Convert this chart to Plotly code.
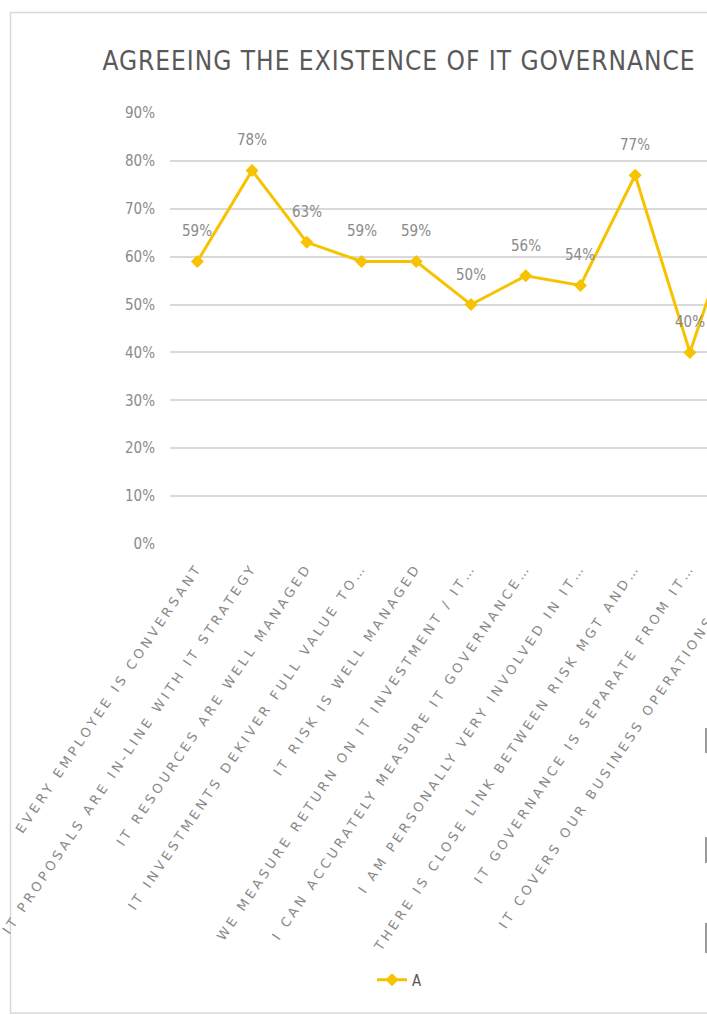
import plotly.graph_objects as go

categories = [
    "EVERY EMPLOYEE IS CONVERSANT",
    "IT PROPOSALS ARE IN-LINE WITH IT STRATEGY",
    "IT RESOURCES ARE WELL MANAGED",
    "IT INVESTMENTS DEKIVER FULL VALUE TO…",
    "IT RISK IS WELL MANAGED",
    "WE MEASURE RETURN ON IT INVESTMENT / IT…",
    "I CAN ACCURATELY MEASURE IT GOVERNANCE…",
    "I AM PERSONALLY VERY INVOLVED IN IT…",
    "THERE IS CLOSE LINK BETWEEN RISK MGT AND…",
    "IT GOVERNANCE IS SEPARATE FROM IT…",
    "IT COVERS OUR BUSINESS OPERATIONS AND…",
]
values_a = [0.59, 0.78, 0.63, 0.59, 0.59, 0.50, 0.56, 0.54, 0.77, 0.40, 0.74]
label_a = [f"{round(v*100)}%" for v in values_a]
y_ticks = [0, 0.1, 0.2, 0.3, 0.4, 0.5, 0.6, 0.7, 0.8, 0.9]
y_tick_text = [f"{round(t*100)}%" for t in y_ticks]

W, H = 790, 1015
L, R = 170, 772
T, B = 113, 544

GOLD = "#F7C200"
GRAY = "#8a8a8a"
NARROW = "Liberation Sans Narrow, DejaVu Sans Condensed, Arial Narrow, sans-serif"

fig = go.Figure()
fig.add_trace(go.Scatter(
    x=categories, y=values_a, name="A", mode="lines+markers",
    line=dict(color=GOLD, width=3),
    marker=dict(symbol="diamond", size=10, color=GOLD),
    cliponaxis=False,
))

annotations = [
    dict(x=c, y=v, xref="x", yref="y", text=t, showarrow=False, yshift=30,
         xanchor="center", yanchor="middle",
         font=dict(family=NARROW, size=15, color=GRAY))
    for c, v, t in zip(categories, values_a, label_a)
]

def px(x):
    return (x - L) / (R - L)

def py(y):
    return (B - y) / (B - T)

shapes = [
    dict(type="rect", xref="paper", yref="paper", x0=px(10.5), x1=px(W - 2), y0=py(12.5), y1=py(1013),
         line=dict(color="#d9d9d9", width=1.5), fillcolor="rgba(0,0,0,0)", layer="below"),
]
for (a, b) in [(728, 753), (837, 863), (923, 953)]:
    shapes.append(dict(type="line", xref="paper", yref="paper", x0=px(706), x1=px(706),
                       y0=py(a), y1=py(b), line=dict(color="#9a9a9a", width=2)))

fig.update_layout(
    width=W, height=H, autosize=False,
    margin=dict(l=L, r=W - R, t=T, b=H - B, pad=0),
    paper_bgcolor="white", plot_bgcolor="white",
    title=dict(text="AGREEING THE EXISTENCE OF IT GOVERNANCE", xref="paper", x=px(399), xanchor="center",
               yref="container", y=1 - 61 / H, yanchor="middle",
               font=dict(family="DejaVu Sans Condensed, DejaVu Sans, sans-serif", size=26, color="#595959")),
    xaxis=dict(type="category", range=[-0.5, 10.5], showgrid=False, showline=False, ticks="",
               tickangle=-56, tickfont=dict(family="DejaVu Sans, sans-serif", size=13, color="#888888"),
               ticklabelstandoff=12),
    yaxis=dict(range=[0, 0.9], tickvals=y_ticks, ticktext=y_tick_text, showgrid=True,
               gridcolor="#d9d9d9", gridwidth=1.5, zeroline=False, showline=False, ticks="",
               tickfont=dict(family=NARROW, size=15, color=GRAY), ticklabelstandoff=14),
    showlegend=True,
    legend=dict(orientation="h", x=px(372), xanchor="left", y=py(980), yanchor="middle",
                font=dict(family=NARROW, size=15, color="#595959"), itemwidth=30, bgcolor="rgba(0,0,0,0)"),
    shapes=shapes,
    annotations=annotations,
)

post = """
document.body.style.margin='0';document.body.style.overflow='hidden';
var gd = document.getElementById('{plot_id}');
function sp(){
  gd.querySelectorAll('.xtick text').forEach(function(t){t.style.letterSpacing='3.5px';});
  var tt = gd.querySelector('.gtitle'); if (tt) { tt.style.letterSpacing='1px'; }
}
sp(); setTimeout(sp, 30); if (gd.on) { gd.on('plotly_afterplot', sp); }
"""
fig.write_html("out.html", post_script=post)
